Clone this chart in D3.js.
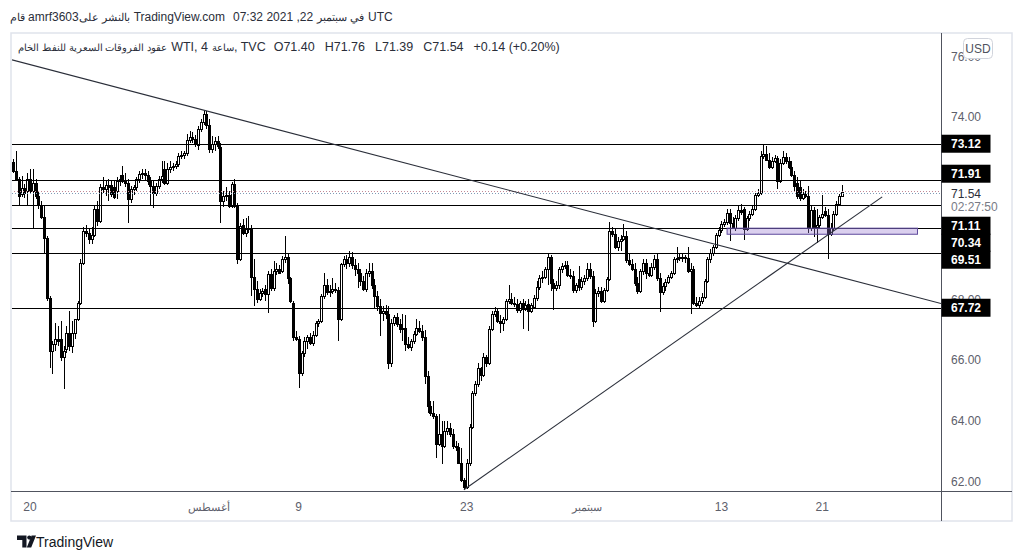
<!DOCTYPE html>
<html><head><meta charset="utf-8">
<script src="https://cdn.jsdelivr.net/npm/d3@7"></script>
<style>
html,body{margin:0;padding:0;background:#fff;}
svg{display:block;font-family:"Liberation Sans",Arial,sans-serif;}
</style></head><body>
<svg id="chart" width="1025" height="560"></svg>
<script>
// ---------- DATA (WTI CFD, 4h candles) ----------
const opens = [72.52,72.22,71.96,71.47,71.66,71.57,71.96,71.57,71.83,71.40,71.11,70.71,70.02,68.05,66.30,66.53,66.70,66.70,66.11,66.37,66.89,66.47,66.89,67.36,67.88,69.20,70.25,70.19,69.99,70.12,70.97,70.58,71.70,71.63,71.76,71.76,71.70,71.57,71.89,72.09,71.89,71.83,71.30,71.63,71.70,71.96,72.13,72.16,72.09,71.89,71.73,71.50,71.73,71.96,72.29,71.83,72.29,72.36,72.39,72.45,72.72,72.75,72.82,73.24,73.34,73.28,73.08,73.61,73.84,74.10,73.74,72.95,73.11,73.21,73.01,71.24,71.40,71.43,71.07,71.80,71.07,69.33,70.45,70.19,70.32,70.35,68.74,68.34,68.01,68.21,68.34,68.18,68.84,68.37,68.93,69.00,68.93,69.33,69.40,68.70,67.88,66.76,66.70,65.58,66.24,66.63,66.76,66.57,66.83,67.22,67.29,68.11,68.47,68.24,68.28,68.34,68.31,67.36,69.16,69.33,69.20,69.40,69.13,69.00,68.87,68.61,68.34,68.87,68.93,68.47,68.11,67.78,67.55,67.62,67.52,65.91,67.22,67.42,67.19,67.03,67.06,66.53,66.43,66.63,66.86,67.06,66.96,66.76,65.48,64.49,64.26,64.16,63.24,63.57,63.18,63.67,63.77,63.57,63.18,63.14,62.62,62.06,61.83,62.62,63.80,64.92,65.22,65.74,65.51,66.11,65.91,67.03,67.52,67.62,67.29,67.22,67.36,67.95,68.01,67.88,67.85,67.65,67.88,67.68,67.85,67.62,67.75,68.05,68.41,68.70,68.74,69.00,69.40,68.54,68.37,68.47,69.00,69.10,69.13,68.80,68.77,68.31,68.67,68.41,68.61,68.70,69.00,68.77,67.29,68.21,68.28,67.95,68.31,68.67,70.25,70.15,69.72,69.92,69.99,70.09,69.30,69.16,69.00,68.54,68.28,68.93,69.20,68.87,68.80,69.07,69.33,68.70,68.24,68.44,68.57,68.74,68.87,69.33,69.36,69.40,69.36,69.36,68.93,69.00,67.88,67.82,67.95,68.08,68.61,69.33,69.53,69.72,70.12,70.28,70.48,70.55,70.84,70.51,70.35,70.68,70.94,70.97,70.32,70.68,70.81,70.97,71.43,71.50,72.72,72.78,72.59,72.36,72.55,72.65,71.89,72.49,72.68,72.55,72.36,72.09,71.83,71.70,71.34,71.47,71.40,70.35,70.94,70.38,70.45,70.71,70.91,70.77,70.15,70.35,70.81,71.14,71.40];
const highs = [72.62,72.88,72.03,72.06,71.80,72.16,72.29,72.29,71.96,71.57,71.24,71.07,70.09,68.11,66.63,67.22,67.13,67.29,66.47,67.13,67.62,67.29,67.36,67.95,69.33,70.38,70.45,70.32,70.38,71.07,71.24,71.80,72.03,71.89,71.96,71.89,71.89,72.03,72.09,72.39,72.16,71.96,71.73,71.76,72.03,72.22,72.29,72.29,72.22,72.03,71.89,71.83,72.06,72.55,72.55,72.49,72.55,72.49,72.55,72.82,72.88,72.88,73.44,73.54,73.51,73.41,73.70,73.93,74.20,74.20,73.93,73.37,73.34,73.37,73.14,71.57,71.70,71.57,71.86,71.96,71.17,70.51,70.64,70.68,70.74,70.45,69.33,68.61,68.34,68.37,68.47,68.93,69.00,69.26,69.20,69.13,69.43,70.09,69.53,68.74,67.95,66.96,66.80,66.30,66.76,66.83,66.89,66.96,67.29,67.36,68.18,68.87,68.67,68.47,68.70,68.54,68.41,69.20,69.43,69.46,69.59,69.56,69.33,69.20,69.00,68.77,69.00,69.20,69.20,68.67,68.28,68.01,67.78,67.82,67.78,67.36,67.49,67.55,67.36,67.52,67.49,66.76,66.70,66.96,67.36,67.29,67.16,66.99,65.64,64.66,64.66,64.23,64.23,64.00,64.00,64.00,63.93,63.74,63.34,63.28,63.11,62.12,62.75,63.90,64.99,65.32,65.91,65.78,66.24,66.17,67.13,67.62,67.75,67.68,67.49,67.42,68.01,68.47,68.21,68.08,68.01,67.95,68.01,67.95,68.01,67.88,68.14,68.61,68.80,68.93,69.07,69.53,69.46,68.67,68.61,69.07,69.20,69.26,69.26,69.00,68.93,68.54,69.10,68.74,68.80,69.20,69.20,68.93,68.34,68.41,68.41,68.37,68.74,70.55,70.38,70.32,70.05,70.12,70.48,70.25,69.53,69.33,69.20,68.74,69.00,69.33,69.33,69.07,69.20,69.46,69.53,68.87,68.54,68.67,68.80,68.93,69.40,69.72,69.53,69.53,69.46,69.72,69.20,69.10,68.08,68.08,68.21,68.67,69.40,69.66,69.79,70.19,70.38,70.58,70.64,70.97,70.97,70.71,70.77,71.07,71.14,71.04,70.74,70.91,71.07,71.50,71.63,72.88,73.12,73.05,72.82,72.68,72.75,72.72,72.62,72.88,72.82,72.68,72.55,72.22,72.03,71.89,71.63,71.57,71.73,71.07,71.04,70.97,70.77,71.43,71.04,70.97,70.51,70.91,71.24,71.47,71.76];
const lows = [72.16,71.89,71.07,71.37,71.34,71.07,71.50,70.32,71.30,70.97,70.64,69.53,67.95,65.74,65.55,66.30,66.47,65.97,65.05,66.24,66.30,66.24,66.70,67.29,67.82,69.13,70.05,69.82,69.82,70.05,70.41,70.51,71.50,71.40,71.24,71.37,71.30,71.30,71.73,71.83,71.70,70.51,71.17,71.43,71.57,71.83,71.96,71.89,71.76,71.07,71.01,71.40,71.63,71.83,71.76,71.76,72.16,72.22,72.29,72.36,72.62,72.62,72.72,73.14,73.14,73.01,72.91,73.51,73.74,73.61,72.82,72.82,72.88,72.95,70.51,71.04,71.24,71.01,71.01,71.01,69.16,69.26,70.12,70.05,70.19,68.11,67.78,67.88,67.95,68.08,67.95,67.55,68.28,68.28,68.80,68.87,68.87,69.20,68.51,67.88,66.63,66.63,65.08,65.48,66.11,66.37,66.50,66.47,66.76,67.09,67.22,68.01,68.14,68.08,68.18,68.21,66.63,67.29,69.07,69.00,69.07,69.00,68.77,68.37,68.44,68.28,68.24,68.74,68.34,67.72,67.62,66.80,67.29,67.36,65.71,65.78,67.13,67.09,66.89,66.63,66.30,66.37,66.30,66.53,66.80,66.89,66.63,65.22,64.26,64.16,64.07,62.78,63.18,62.59,63.11,63.54,63.47,63.08,63.01,62.59,61.99,61.73,61.76,62.52,63.74,64.82,65.12,65.32,65.45,65.78,65.84,66.96,67.42,67.22,66.89,66.96,67.29,67.85,67.82,67.75,67.55,67.55,67.03,67.62,66.96,67.55,67.68,67.95,68.31,68.54,68.67,68.47,68.28,67.65,68.28,68.34,68.87,69.00,68.74,68.67,68.21,68.21,68.28,68.31,68.47,68.61,68.67,67.09,67.22,68.08,67.88,67.88,68.24,68.61,70.05,69.66,69.59,69.59,69.92,69.20,69.10,68.93,68.44,68.18,68.21,68.80,68.67,68.74,68.74,68.97,68.61,67.59,68.14,68.28,68.51,68.67,68.80,69.20,69.26,69.23,69.20,68.87,67.52,67.82,67.75,67.68,67.85,68.01,68.54,69.20,69.43,69.66,70.05,70.19,70.38,70.45,69.92,70.32,70.25,70.58,70.77,69.95,70.25,70.58,70.74,70.91,71.37,71.43,72.62,72.55,72.29,72.29,72.49,71.63,71.83,72.42,72.45,72.29,72.03,71.57,71.30,71.24,71.27,71.34,70.19,70.25,70.05,69.86,70.32,70.64,70.71,69.33,70.09,70.25,70.74,71.07,71.39];
const closes = [72.22,71.96,71.40,71.66,71.50,71.96,71.57,71.83,71.40,71.11,70.71,70.02,68.05,66.30,66.53,66.70,66.63,66.11,66.30,66.89,66.47,66.89,67.36,67.88,69.20,70.25,70.19,69.99,70.12,70.97,70.58,71.70,71.63,71.76,71.70,71.47,71.37,71.89,71.96,71.89,71.83,71.30,71.63,71.70,71.96,72.13,72.16,72.09,71.89,71.73,71.50,71.73,71.96,72.06,71.83,72.29,72.36,72.39,72.45,72.72,72.75,72.82,73.24,73.34,73.28,73.14,73.61,73.84,74.10,73.74,72.95,73.11,73.21,73.05,71.24,71.40,71.43,71.07,71.80,71.07,69.33,70.41,70.19,70.32,70.35,68.74,68.34,68.01,68.21,68.28,68.18,68.84,68.37,68.93,69.00,68.87,69.33,69.40,68.70,67.95,66.76,66.70,65.58,66.24,66.63,66.76,66.57,66.83,67.22,67.29,68.11,68.47,68.24,68.28,68.34,68.31,67.36,69.16,69.33,69.20,69.40,69.13,69.00,68.87,68.61,68.34,68.87,68.93,68.47,68.11,67.78,67.55,67.62,67.52,65.91,67.22,67.42,67.19,67.03,67.06,66.53,66.43,66.63,66.86,67.06,66.96,66.76,65.48,64.49,64.26,64.16,63.24,63.57,63.18,63.67,63.77,63.57,63.18,63.14,62.62,62.06,61.83,62.62,63.80,64.92,65.22,65.74,65.51,66.11,65.91,67.03,67.52,67.62,67.29,67.22,67.36,67.95,68.01,67.88,67.85,67.65,67.88,67.68,67.82,67.62,67.82,68.05,68.41,68.70,68.74,69.00,69.40,68.54,68.37,68.47,69.00,69.10,69.13,68.80,68.77,68.31,68.47,68.41,68.61,68.70,69.00,68.77,67.29,68.21,68.28,67.95,68.31,68.67,70.25,70.15,69.72,69.92,69.99,70.09,69.30,69.16,69.00,68.54,68.28,68.93,69.20,68.87,68.80,69.07,69.33,68.70,68.24,68.44,68.57,68.74,68.87,69.33,69.36,69.40,69.36,69.40,68.93,69.00,67.88,67.82,67.95,68.08,68.61,69.33,69.53,69.72,70.12,70.28,70.48,70.55,70.84,70.51,70.35,70.68,70.94,70.87,70.32,70.68,70.81,70.97,71.43,71.50,72.72,72.78,72.59,72.36,72.55,72.65,71.89,72.49,72.68,72.55,72.36,72.09,71.73,71.40,71.34,71.47,71.40,70.35,70.94,70.38,70.45,70.71,70.81,70.77,70.15,70.35,70.81,71.14,71.40,71.54];

const levels = [73.12, 71.91, 71.11, 70.34, 69.51, 67.72];
const priceTicks = [62, 64, 66, 68, 70, 72, 74, 76];
const timeTickIndex = [6, 70, 102, 162, 205, 253, 289];
const timeTickLabels = ["20", "أغسطس", "9", "23", "سبتمبر", "13", "21"];
const trendDownIdx = [-0.4, 331.4];
const trendDownPrice = [75.88, 67.86];
const trendUpIdx = [161, 310.4];
const trendUpPrice = [61.73, 71.37];
const zoneIdx = [255, 323];
const zonePrice = [70.34, 70.14];
const countdown = "02:27:50";
const headerPieces = ["قام", "amrf3603", "بالنشر على", "TradingView.com", "07:32 2021 ,22", "في سبتمبر", "UTC"];
const titlePieces = ["عقود الفروقات السعرية للنفط الخام", "WTI, 4", "ساعة", ", TVC"];

// ---------- LAYOUT ----------
const plotL = 11, plotR = 941, plotT = 33, plotB = 491, frameR = 1012, frameB = 521;
const svg = d3.select("#chart");
const x = d3.scaleLinear().domain([-0.4, 331.4]).range([12, 941]);
const y = d3.scaleLinear().domain([62, 74]).range([481.5, 117]);
const n = closes.length;
const candles = d3.range(n).map(i => ({i, o: opens[i], h: highs[i], l: lows[i], c: closes[i]}));
const last = candles[n - 1];
const prevClose = closes[n - 2];
const isArabic = s => /[\u0600-\u06FF]/.test(s);

// frame
svg.append("rect").attr("x", plotL).attr("y", plotT).attr("width", frameR - plotL).attr("height", frameB - plotT)
  .attr("fill", "#fff").attr("stroke", "#e0e3eb").attr("stroke-width", 1.5);

const defs = svg.append("defs");
defs.append("clipPath").attr("id", "clip").append("rect")
  .attr("x", plotL + 1).attr("y", plotT + 1).attr("width", plotR - plotL - 1).attr("height", plotB - plotT - 1);

const g = svg.append("g").attr("clip-path", "url(#clip)");

// candles
const cg = g.append("g").attr("shape-rendering", "crispEdges");
cg.selectAll("line.wick").data(candles).join("line")
  .attr("x1", d => Math.round(x(d.i)) + 0.5).attr("x2", d => Math.round(x(d.i)) + 0.5)
  .attr("y1", d => y(d.h)).attr("y2", d => y(d.l))
  .attr("stroke", "#000").attr("stroke-width", 1);
cg.selectAll("rect.body").data(candles).join("rect")
  .attr("x", d => Math.round(x(d.i)) - 0.5)
  .attr("width", 2)
  .attr("y", d => Math.round(y(Math.max(d.o, d.c))) + 0.5)
  .attr("height", d => Math.max(0.01, Math.round(y(Math.min(d.o, d.c))) - Math.round(y(Math.max(d.o, d.c)))))
  .attr("fill", d => d.c >= d.o ? "#fff" : "#000")
  .attr("stroke", "#000").attr("stroke-width", 1);

// current price dotted line
const yl = y(last.c);
g.append("line").attr("x1", plotL).attr("x2", plotR).attr("y1", Math.round(yl) - 0.5).attr("y2", Math.round(yl) - 0.5)
  .attr("stroke", "#c48a96").attr("stroke-dasharray", "1,2").attr("stroke-width", 1);
g.append("line").attr("x1", plotL + 1).attr("x2", plotR).attr("y1", Math.round(yl) + 1.5).attr("y2", Math.round(yl) + 1.5)
  .attr("stroke", "#7f9bb8").attr("stroke-dasharray", "1,2").attr("stroke-width", 1);

// horizontal levels
g.selectAll("line.level").data(levels).join("line")
  .attr("x1", plotL).attr("x2", plotR)
  .attr("y1", d => Math.round(y(d)) + 0.5).attr("y2", d => Math.round(y(d)) + 0.5)
  .attr("stroke", "#000").attr("stroke-width", 1.2);

// zone rectangle
g.append("rect").attr("x", x(zoneIdx[0])).attr("width", x(zoneIdx[1]) - x(zoneIdx[0]))
  .attr("y", y(zonePrice[0])).attr("height", y(zonePrice[1]) - y(zonePrice[0]))
  .attr("fill", "rgba(149,117,205,0.35)").attr("stroke", "#5e4a9c").attr("stroke-width", 1);

// trend lines
const line = d3.line().x(d => x(d[0])).y(d => y(d[1]));
g.append("path").attr("d", line(d3.zip(trendDownIdx, trendDownPrice))).attr("stroke", "#2a2e39").attr("stroke-width", 1.1).attr("fill", "none");
g.append("path").attr("d", line(d3.zip(trendUpIdx, trendUpPrice))).attr("stroke", "#2a2e39").attr("stroke-width", 1.1).attr("fill", "none");

// axes lines
svg.append("line").attr("x1", plotR + 0.5).attr("x2", plotR + 0.5).attr("y1", plotT).attr("y2", frameB).attr("stroke", "#50535e");
svg.append("line").attr("x1", plotL).attr("x2", frameR).attr("y1", plotB + 0.5).attr("y2", plotB + 0.5).attr("stroke", "#50535e");

// price label layout (labels are pushed apart around the last-price label)
const priceTop = yl - 7, priceBot = yl + 23;
const labelPos = [];
let maxC = priceTop - 11;
levels.filter(v => y(v) < yl).sort((a, b) => y(b) - y(a)).forEach(v => {
  const c = Math.min(y(v), maxC); labelPos.push({v, c}); maxC = c - 17;
});
let minC = priceBot + 11;
levels.filter(v => y(v) >= yl).sort((a, b) => y(a) - y(b)).forEach(v => {
  const c = Math.max(y(v), minC); labelPos.push({v, c}); minC = c + 17;
});

// right price axis (ticks fully covered by a label box are not drawn)
const visibleTicks = priceTicks.filter(t => !labelPos.some(p => Math.abs(y(t) - p.c) < 8) && Math.abs(y(t) - (yl + 6)) > 18);
const yAxis = d3.axisRight(y).tickValues(visibleTicks).tickSize(0).tickPadding(0).tickFormat(d3.format(".2f"));
const ya = svg.append("g").attr("transform", `translate(${plotR + 10},0)`).call(yAxis);
ya.select(".domain").remove();
ya.selectAll("text").attr("font-family", "Liberation Sans, Arial, sans-serif").attr("font-size", 12).attr("fill", "#5d606b").attr("dy", "0.32em");

// USD badge
svg.append("rect").attr("x", 963.5).attr("y", 38.5).attr("width", 29).attr("height", 20).attr("rx", 4)
  .attr("fill", "#fff").attr("stroke", "#d1d4dc");
svg.append("text").attr("x", 978).attr("y", 52.5).attr("text-anchor", "middle").attr("font-size", 12).attr("fill", "#50535e").text("USD");

svg.selectAll("rect.plab").data(labelPos).join("rect")
  .attr("x", plotR + 0.5).attr("width", 49).attr("y", d => d.c - 9).attr("height", 18).attr("fill", "#000");
svg.selectAll("text.plab").data(labelPos).join("text")
  .attr("x", plotR + 10).attr("y", d => d.c + 4.5).attr("font-size", 12).attr("font-weight", "bold")
  .attr("fill", "#fff").text(d => d.v.toFixed(2));
// last price + countdown
svg.append("text").attr("x", plotR + 10).attr("y", yl + 6).attr("font-size", 12).attr("fill", "#2a2e39").text(last.c.toFixed(2));
svg.append("text").attr("x", plotR + 10).attr("y", yl + 19.5).attr("font-size", 12).attr("fill", "#787b86").text(countdown);

// time axis
svg.selectAll("text.tx").data(timeTickIndex).join("text")
  .attr("x", d => x(d)).attr("y", 511).attr("text-anchor", "middle")
  .attr("font-size", (d, k) => isArabic(timeTickLabels[k]) ? 11 : 12)
  .attr("fill", "#5d606b").text((d, k) => timeTickLabels[k]);

// header / legend helper
function layout(pieces, gaps, x0, yb, size, arSize, fill) {
  let cx = x0;
  pieces.forEach((p, k) => {
    const t = svg.append("text").attr("x", cx).attr("y", yb)
      .attr("font-size", isArabic(p) ? arSize : size).attr("fill", fill).text(p);
    cx += t.node().getComputedTextLength() + (gaps[k] || 0);
  });
  return cx;
}
layout(headerPieces, [3, 0, 4, 8, 4, 4, 0], 10, 20.5, 12, 10.5, "#2a2e39");

// legend
const f = d3.format(".2f");
const chg = last.c - prevClose;
const legend = titlePieces.concat([
  "O" + f(last.o), "H" + f(last.h), "L" + f(last.l), "C" + f(last.c),
  (chg >= 0 ? "+" : "") + f(chg) + " (" + (chg >= 0 ? "+" : "") + f(chg / prevClose * 100) + "%)"
]);
layout(legend, [4, 4, 0, 8, 10, 10, 10, 10, 0], 18, 50.5, 12.5, 10, "#2a2e39");

// footer logo
const logo = svg.append("g").attr("fill", "#131722");
logo.append("path").attr("d", "M17 535.5 h9.5 v12 h-4.2 v-7.6 h-5.3 z");
logo.append("circle").attr("cx", 29.3).attr("cy", 537.6).attr("r", 2.1);
logo.append("path").attr("d", "M31.6 535.5 h4.4 l-4.8 12 h-4.4 z");
svg.append("text").attr("x", 36).attr("y", 546.5).attr("font-size", 14).attr("fill", "#131722").text("TradingView");
</script>
</body></html>
